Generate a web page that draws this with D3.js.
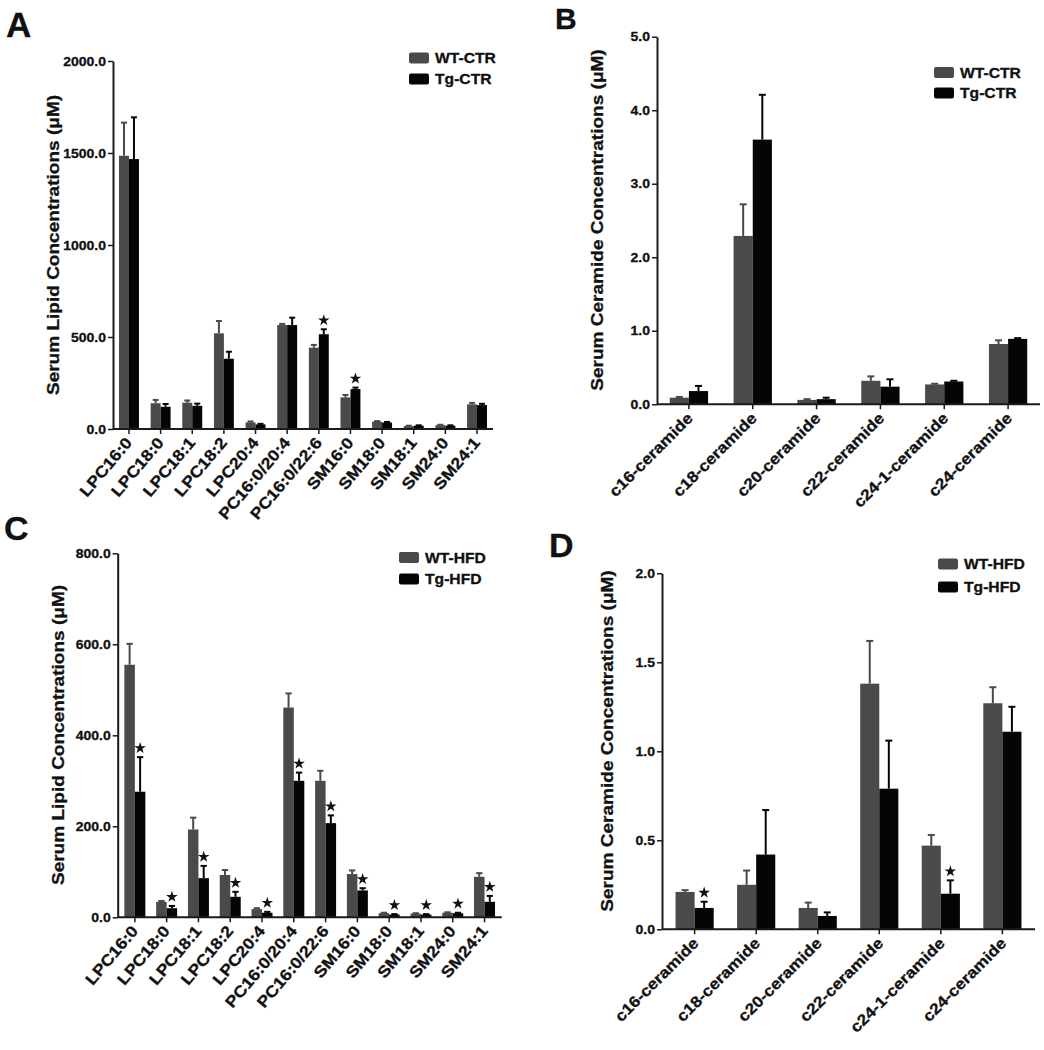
<!DOCTYPE html>
<html><head><meta charset="utf-8">
<script src="https://cdn.jsdelivr.net/npm/d3@7"></script>
<style>
body{margin:0;background:#fff;}
text{font-family:"Liberation Sans",Arial,Helvetica,sans-serif;font-weight:bold;fill:#111;stroke:#111;stroke-width:0.3px;}
</style></head>
<body><svg id="chart" width="1044" height="1050"></svg>
<script>
// ---------- data ----------
const lipidCats = ["LPC16:0","LPC18:0","LPC18:1","LPC18:2","LPC20:4","PC16:0/20:4","PC16:0/22:6","SM16:0","SM18:0","SM18:1","SM24:0","SM24:1"];
const ceramideCats = ["c16-ceramide","c18-ceramide","c20-ceramide","c22-ceramide","c24-1-ceramide","c24-ceramide"];

const ctrSeries = ["WT-CTR","Tg-CTR"];
const hfdSeries = ["WT-HFD","Tg-HFD"];

// Panel A: serum lipids, CTR diet
const aWT    = [1485,140,143,520,36,565,442,172,40,16,21,134];
const aWTerr = [180,18,12,67,5,6,15,13,3,2,2,8];
const aTg    = [1467,121,126,382,25,565,515,217,35,18,18,130];
const aTgErr = [227,15,12,38,3,40,27,8,3,2,2,7];
const aStars = [0,0,0,0,0,0,1,1,0,0,0,0];
const aTicks = [0,500,1000,1500,2000];

// Panel B: serum ceramides, CTR diet
const bWT    = [0.09,2.29,0.06,0.32,0.27,0.82];
const bWTerr = [0.01,0.43,0.01,0.06,0.01,0.05];
const bTg    = [0.18,3.60,0.07,0.24,0.31,0.89];
const bTgErr = [0.07,0.61,0.02,0.10,0.01,0.01];
const bStars = [0,0,0,0,0,0];
const bTicks = [0,1,2,3,4,5];

// Panel C: serum lipids, HFD
const cWT    = [555,34,193,93,18,461,300,95,9,8,10,89];
const cWTerr = [46,2,26,11,2,31,22,8,1,1,1,8];
const cTg    = [276,20,86,45,10,300,207,59,6,6,9,34];
const cTgErr = [76,5,27,11,2,18,17,5,1,1,1,13];
const cStars = [1,1,1,1,1,1,1,1,1,1,1,1];
const cTicks = [0,200,400,600,800];

// Panel D: serum ceramides, HFD
const dWT    = [0.21,0.25,0.12,1.38,0.47,1.27];
const dWTerr = [0.01,0.08,0.03,0.24,0.06,0.09];
const dTg    = [0.12,0.42,0.075,0.79,0.20,1.11];
const dTgErr = [0.035,0.25,0.02,0.27,0.075,0.14];
const dStars = [1,0,0,0,1,0];
const dTicks = [0,0.5,1,1.5,2];

const lipidTitle = "Serum Lipid Concentrations (\u03bcM)";
const ceramideTitle = "Serum Ceramide Concentrations (\u03bcM)";

// ---------- drawing ----------
const svg = d3.select("#chart");
svg.append("rect").attr("width",1044).attr("height",1050).attr("fill","#fff");
const WT_COLOR = "#4a4a4a", TG_COLOR = "#050505", AXIS = "#1a1a1a";
const SX = 1.12; // horizontal glyph stretch

function panel(o){
  const g = svg.append("g");
  const x = d3.scaleBand().domain(o.cats).range([o.x0,o.x1]).paddingInner(o.pIn).paddingOuter(o.pOut);
  const xs = d3.scaleBand().domain([0,1]).range([0,x.bandwidth()]);
  const y = d3.scaleLinear().domain([0,o.max]).range([o.y0,o.yTop]);
  const colors=[WT_COLOR,TG_COLOR];
  const vals=[o.wt,o.tg], errs=[o.wtErr,o.tgErr];

  [0,1].forEach(s=>{
    const gg = g.append("g");
    o.cats.forEach((c,i)=>{
      const bx = x(c)+xs(s), bw = xs.bandwidth();
      const v=vals[s][i], e=errs[s][i];
      const cx = bx+bw/2;
      const capW = Math.min(bw*0.6,7);
      gg.append("line").attr("x1",cx).attr("x2",cx).attr("y1",y(v)).attr("y2",y(v+e))
        .attr("stroke",colors[s]).attr("stroke-width",2);
      gg.append("line").attr("x1",cx-capW/2).attr("x2",cx+capW/2).attr("y1",y(v+e)).attr("y2",y(v+e))
        .attr("stroke",colors[s]).attr("stroke-width",2);
      gg.append("rect").attr("x",bx).attr("width",bw).attr("y",y(v)).attr("height",o.y0-y(v))
        .attr("fill",colors[s]);
      if(s===1 && o.stars[i]){
        g.append("path").attr("d",d3.symbol(d3.symbolStar).size(42)())
          .attr("transform",`translate(${cx},${y(v+e)-9})`).attr("fill","#111");
      }
    });
  });

  const ya = g.append("g").attr("transform",`translate(${o.x0},0)`)
    .call(d3.axisLeft(y).tickValues(o.ticks).tickFormat(d3.format(".1f")).tickSize(5).tickSizeOuter(0));
  ya.select(".domain").attr("stroke",AXIS).attr("stroke-width",2);
  ya.selectAll(".tick line").attr("stroke",AXIS).attr("stroke-width",1.5);
  ya.selectAll(".tick text").attr("font-size",12.5).attr("font-family","Liberation Sans, Arial, sans-serif")
    .attr("font-weight","bold").attr("fill","#111").attr("x",-7/SX).attr("transform",`scale(${SX},1)`);

  const xa = g.append("g").attr("transform",`translate(0,${o.y0})`)
    .call(d3.axisBottom(x).tickSize(5).tickSizeOuter(0));
  xa.select(".domain").attr("stroke",AXIS).attr("stroke-width",2).attr("d",`M${o.x0},0H${o.x1}`);
  xa.selectAll(".tick line").attr("stroke",AXIS).attr("stroke-width",1.5);
  xa.selectAll(".tick text").remove();
  xa.selectAll(".tick").append("text")
    .attr("transform",`translate(${o.lblDx},${o.lblDy}) rotate(${o.rot}) scale(${SX},1)`)
    .attr("text-anchor","end").attr("font-size",o.lblSize).attr("fill","#111")
    .text(d=>d);

  g.append("text").attr("transform",`translate(${o.titleX},${o.titleY}) rotate(-90) scale(${SX},1)`)
    .attr("text-anchor","middle").attr("dy","0.35em").attr("font-size",17).text(o.title);

  g.append("text").attr("x",o.letterX).attr("y",o.letterY).attr("font-size",o.letterSize).text(o.letter);

  o.series.forEach((s,i)=>{
    const ly = o.legY + i*o.legGap;
    g.append("rect").attr("x",o.legX).attr("y",ly-5.5).attr("width",20).attr("height",11).attr("rx",2)
      .attr("fill",colors[i]);
    g.append("text").attr("transform",`translate(${o.legX+26},${ly}) scale(${SX},1)`)
      .attr("dy","0.36em").attr("font-size",14).text(s);
  });
}

panel({cats:lipidCats,wt:aWT,wtErr:aWTerr,tg:aTg,tgErr:aTgErr,stars:aStars,ticks:aTicks,max:2000,
  x0:113,x1:493,y0:429,yTop:61,pIn:0.37,pOut:0.19,rot:-50,lblDx:4,lblDy:14,lblSize:16,
  title:lipidTitle,titleX:53,titleY:245,letter:"A",letterX:6,letterY:37,letterSize:35,
  series:ctrSeries,legX:409,legY:58,legGap:21});

panel({cats:ceramideCats,wt:bWT,wtErr:bWTerr,tg:bTg,tgErr:bTgErr,stars:bStars,ticks:bTicks,max:5,
  x0:657,x1:1040,y0:404.3,yTop:36.7,pIn:0.4,pOut:0.2,rot:-45,lblDx:5,lblDy:15,lblSize:15.5,
  title:ceramideTitle,titleX:597,titleY:220,letter:"B",letterX:555,letterY:29,letterSize:30,
  series:ctrSeries,legX:934,legY:72.5,legGap:20.5});

panel({cats:lipidCats,wt:cWT,wtErr:cWTerr,tg:cTg,tgErr:cTgErr,stars:cStars,ticks:cTicks,max:800,
  x0:117.7,x1:501.7,y0:917.3,yTop:553.3,pIn:0.34,pOut:0.21,rot:-50,lblDx:4,lblDy:14,lblSize:16,
  title:lipidTitle,titleX:58,titleY:735,letter:"C",letterX:4,letterY:540,letterSize:34,
  series:hfdSeries,legX:399,legY:557.5,legGap:21.5});

panel({cats:ceramideCats,wt:dWT,wtErr:dWTerr,tg:dTg,tgErr:dTgErr,stars:dStars,ticks:dTicks,max:2,
  x0:662,x1:1035,y0:929.3,yTop:573.3,pIn:0.38,pOut:0.22,rot:-45,lblDx:5,lblDy:15,lblSize:15.5,
  title:ceramideTitle,titleX:607,titleY:741,letter:"D",letterX:549,letterY:557,letterSize:34,
  series:hfdSeries,legX:938,legY:564,legGap:23});
</script></body></html>
